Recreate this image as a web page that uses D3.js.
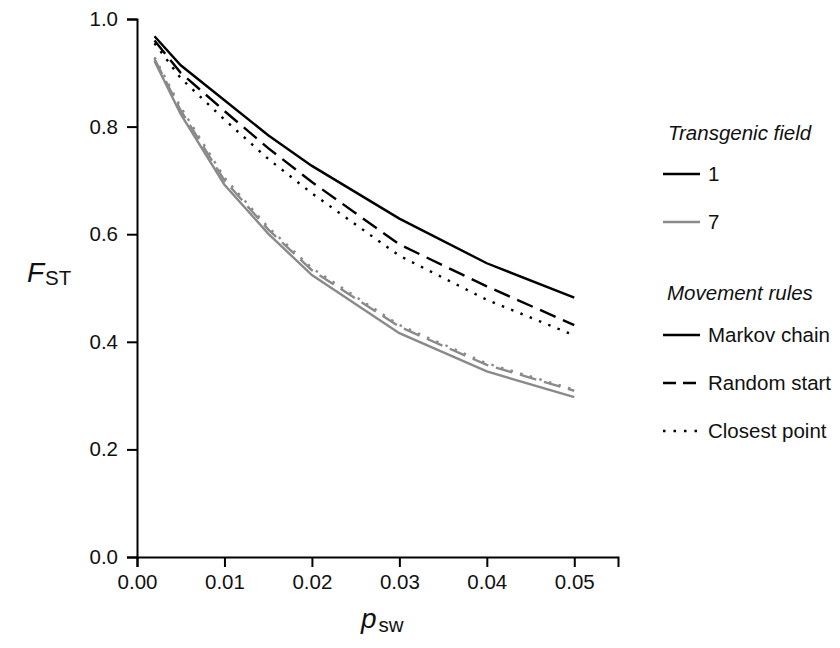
<!DOCTYPE html>
<html>
<head>
<meta charset="utf-8">
<script src="https://cdn.jsdelivr.net/npm/d3@7"></script>
<style>
  body { margin: 0; background: #fff; }
  svg { font-family: "Liberation Sans", Arial, sans-serif; }
</style>
</head>
<body>
<div id="chart"></div>
<script>
// switching probability values (x)
const pSw = [0.002, 0.005, 0.01, 0.015, 0.02, 0.03, 0.04, 0.05];

// F_ST for transgenic field 1
const field1Markov  = [0.968, 0.914, 0.849, 0.784, 0.727, 0.629, 0.546, 0.482];
const field1Random  = [0.960, 0.900, 0.829, 0.760, 0.697, 0.581, 0.503, 0.431];
const field1Closest = [0.955, 0.890, 0.813, 0.740, 0.676, 0.560, 0.478, 0.412];

// F_ST for transgenic field 7
const field7Markov  = [0.922, 0.823, 0.692, 0.601, 0.524, 0.416, 0.345, 0.297];
const field7Random  = [0.926, 0.830, 0.700, 0.609, 0.533, 0.428, 0.357, 0.309];
const field7Closest = [0.929, 0.836, 0.705, 0.613, 0.537, 0.431, 0.360, 0.311];

const xTicks = [0, 0.01, 0.02, 0.03, 0.04, 0.05];
const yTicks = [0, 0.2, 0.4, 0.6, 0.8, 1.0];

const fieldLabels = ["1", "7"];
const ruleLabels = ["Markov chain", "Random start", "Closest point"];

const fieldColor = { "1": "#000000", "7": "#8a8a8a" };
const ruleDash = { "Markov chain": null, "Random start": "17,8", "Closest point": "2.5,7.5" };

const series = [
  { field: "1", rule: "Markov chain", values: field1Markov },
  { field: "1", rule: "Random start", values: field1Random },
  { field: "1", rule: "Closest point", values: field1Closest },
  { field: "7", rule: "Markov chain", values: field7Markov },
  { field: "7", rule: "Random start", values: field7Random },
  { field: "7", rule: "Closest point", values: field7Closest }
];

const width = 840, height = 648;
const fontSize = "20.5px";

const svg = d3.select("#chart")
  .append("svg")
  .attr("width", width)
  .attr("height", height);

const x = d3.scaleLinear().domain([0, 0.055]).range([137, 618]);
const y = d3.scaleLinear().domain([0, 1]).range([557, 19]);

// axes
const xAxis = svg.append("g")
  .attr("transform", `translate(0,${y(0)})`)
  .call(d3.axisBottom(x).tickValues(xTicks).tickFormat(d3.format(".2f")).tickSizeOuter(0).tickSize(10).tickPadding(7));

const yAxis = svg.append("g")
  .attr("transform", `translate(${x(0)},0)`)
  .call(d3.axisLeft(y).tickValues(yTicks).tickFormat(d3.format(".1f")).tickSizeOuter(0).tickSize(10).tickPadding(9));

[xAxis, yAxis].forEach(ax => {
  ax.selectAll("path, line").attr("stroke", "#000").attr("stroke-width", 2);
  ax.selectAll("text")
    .attr("font-family", "Liberation Sans, Arial, sans-serif")
    .attr("font-size", fontSize)
    .attr("fill", "#111");
});

// lines
const line = d3.line()
  .x((d, i) => x(pSw[i]))
  .y(d => y(d));

svg.append("g")
  .selectAll("path")
  .data(series)
  .enter()
  .append("path")
  .attr("d", d => line(d.values))
  .attr("fill", "none")
  .attr("stroke", d => fieldColor[d.field])
  .attr("stroke-width", 2.4)
  .attr("stroke-dasharray", d => ruleDash[d.rule]);

// axis titles
const yTitle = svg.append("text")
  .attr("x", 27)
  .attr("y", 282)
  .attr("font-size", "28px")
  .attr("fill", "#111");
yTitle.append("tspan").attr("font-style", "italic").text("F");
yTitle.append("tspan").attr("font-size", fontSize).attr("dy", 3).attr("dx", 1).text("ST");

const xTitle = svg.append("text")
  .attr("x", 361)
  .attr("y", 628)
  .attr("font-size", "28px")
  .attr("fill", "#111");
xTitle.append("tspan").attr("font-style", "italic").text("p");
xTitle.append("tspan").attr("font-size", fontSize).attr("dy", 4).attr("dx", 2).text("sw");

// legend
const legend = svg.append("g").attr("transform", "translate(663,0)");

legend.append("text")
  .attr("x", 5).attr("y", 140)
  .attr("font-size", fontSize).attr("font-style", "italic").attr("fill", "#111")
  .text("Transgenic field");

fieldLabels.forEach((f, i) => {
  const yy = 174 + i * 48;
  legend.append("line")
    .attr("x1", 0).attr("x2", 37).attr("y1", yy).attr("y2", yy)
    .attr("stroke", fieldColor[f]).attr("stroke-width", 2.4);
  legend.append("text")
    .attr("x", 45).attr("y", yy + 7)
    .attr("font-size", fontSize).attr("fill", "#111")
    .text(f);
});

legend.append("text")
  .attr("x", 4).attr("y", 300)
  .attr("font-size", fontSize).attr("font-style", "italic").attr("fill", "#111")
  .text("Movement rules");

const legendDash = { "Markov chain": null, "Random start": "13,7", "Closest point": "2.5,8" };
ruleLabels.forEach((r, i) => {
  const yy = 335 + i * 48;
  legend.append("line")
    .attr("x1", 0).attr("x2", 37).attr("y1", yy).attr("y2", yy)
    .attr("stroke", "#000").attr("stroke-width", 2.4)
    .attr("stroke-dasharray", legendDash[r]);
  legend.append("text")
    .attr("x", 45).attr("y", yy + 7)
    .attr("font-size", fontSize).attr("fill", "#111")
    .text(r);
});
</script>
</body>
</html>
